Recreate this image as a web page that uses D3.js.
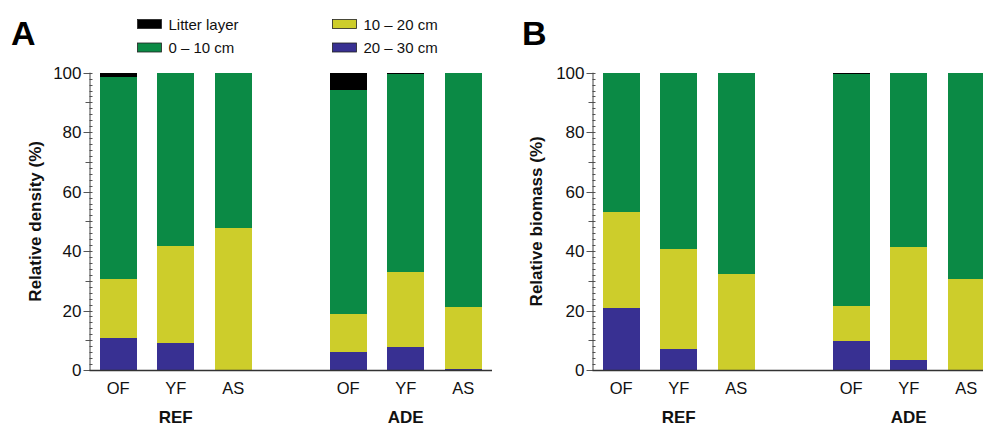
<!DOCTYPE html>
<html>
<head>
<meta charset="utf-8">
<script src="https://cdn.jsdelivr.net/npm/d3@7"></script>
<style>
  html, body { margin: 0; padding: 0; background: #fff; }
  svg { display: block; font-family: Arial, "Liberation Sans", Helvetica, sans-serif; }
</style>
</head>
<body>
<svg id="chart" width="983" height="428"></svg>
<script>
// Sites within each land-use group, and the groups themselves
const sites = ["OF", "YF", "AS"];
const groups = ["REF", "ADE"];

// Soil layers, stacked from the bottom up
const layers = ["20 – 30 cm", "10 – 20 cm", "0 – 10 cm", "Litter layer"];
const layerColors = ["#383092", "#cdcd2b", "#0b8a45", "#000000"];

// Relative density (%) per bar: REF OF, REF YF, REF AS, ADE OF, ADE YF, ADE AS
const densityLitter = [1.3, 0, 0, 5.7, 0.3, 0];
const density0_10   = [68.0, 58.2, 52.4, 75.4, 66.6, 78.9];
const density10_20  = [19.8, 32.6, 47.6, 12.9, 25.5, 20.7];
const density20_30  = [10.9, 9.2, 0, 6.0, 7.6, 0.4];

// Relative biomass (%) per bar, same order
const biomassLitter = [0.2, 0, 0, 0.5, 0.2, 0];
const biomass0_10   = [46.7, 59.4, 67.8, 77.9, 58.5, 69.3];
const biomass10_20  = [32.1, 33.5, 32.2, 11.9, 37.9, 30.7];
const biomass20_30  = [21.0, 7.1, 0, 9.7, 3.4, 0];

const yTicks = [0, 20, 40, 60, 80, 100];

const svg = d3.select("#chart");

function buildRows(l30, l20, l10, litter) {
  const rows = [];
  groups.forEach((g, gi) => sites.forEach((s, si) => {
    const i = gi * sites.length + si;
    rows.push({
      key: g + "-" + s, group: g, site: s,
      "20 – 30 cm": l30[i], "10 – 20 cm": l20[i], "0 – 10 cm": l10[i], "Litter layer": litter[i]
    });
  }));
  return rows;
}

function drawPanel(opts) {
  const { left, letter, letterX, title, titleX, rows } = opts;
  const top = 72.7, bottom = 370;
  const step = 57.5;

  // slots: three REF bars, an empty spacer, three ADE bars
  const slots = ["REF-OF", "REF-YF", "REF-AS", "gap", "ADE-OF", "ADE-YF", "ADE-AS"];
  const x = d3.scaleBand().domain(slots)
    .range([left, left + step * slots.length])
    .paddingInner(0.35).paddingOuter(0.175);
  const y = d3.scaleLinear().domain([0, 100]).range([bottom, top]);

  const g = svg.append("g");

  // panel letter
  g.append("text").attr("x", letterX).attr("y", 45)
    .attr("font-size", 34).attr("font-weight", "bold").text(letter);

  // stacked bars
  const stacked = d3.stack().keys(layers)(rows);
  stacked.forEach((series, li) => {
    g.append("g").attr("fill", layerColors[li]).attr("shape-rendering", "crispEdges")
      .selectAll("rect").data(series.filter(d => d[1] - d[0] > 0)).join("rect")
      .attr("x", d => x(d.data.key))
      .attr("width", x.bandwidth())
      .attr("y", d => y(d[1]))
      .attr("height", d => y(d[0]) - y(d[1]));
  });

  // y axis: major ticks every 20, mid every 10, minor every 2
  const ax = g.append("g").attr("stroke", "#555").attr("stroke-width", 1);
  d3.range(0, 101, 2).forEach(v => {
    const yy = Math.round(y(v)) + 0.5;
    let x0 = left, x1 = left + 3;
    if (v % 20 === 0) x0 = left - 6;
    else if (v % 10 === 0) x0 = left - 4;
    ax.append("line").attr("x1", x0).attr("x2", x1).attr("y1", yy).attr("y2", yy);
  });
  ax.append("line").attr("x1", left + 0.5).attr("x2", left + 0.5)
    .attr("y1", top).attr("y2", bottom).attr("stroke", "#444");

  g.append("g").selectAll("text").data(yTicks).join("text")
    .attr("x", left - 8).attr("y", d => y(d)).attr("dy", "0.36em")
    .attr("text-anchor", "end").attr("font-size", 17).attr("fill", "#111")
    .text(d => d);

  // x baseline
  g.append("line").attr("x1", left).attr("x2", left + step * slots.length)
    .attr("y1", bottom + 0.5).attr("y2", bottom + 0.5)
    .attr("stroke", "#333").attr("stroke-width", 1.5);

  // site labels
  g.append("g").selectAll("text").data(rows).join("text")
    .attr("x", d => x(d.key) + x.bandwidth() / 2).attr("y", 394)
    .attr("text-anchor", "middle").attr("font-size", 16.5).attr("fill", "#111")
    .text(d => d.site);

  // group labels under the middle site of each group
  g.append("g").selectAll("text").data(groups).join("text")
    .attr("x", d => x(d + "-YF") + x.bandwidth() / 2).attr("y", 423)
    .attr("text-anchor", "middle").attr("font-size", 17).attr("font-weight", "bold")
    .attr("fill", "#111").text(d => d);

  // y title
  g.append("text")
    .attr("transform", `translate(${titleX},${(top + bottom) / 2}) rotate(-90)`)
    .attr("dy", "0.36em").attr("text-anchor", "middle")
    .attr("font-size", 17).attr("font-weight", "bold").attr("fill", "#111")
    .text(title);
}

drawPanel({
  left: 89.5, letter: "A", letterX: 11, title: "Relative density (%)", titleX: 35,
  rows: buildRows(density20_30, density10_20, density0_10, densityLitter)
});
drawPanel({
  left: 592.5, letter: "B", letterX: 522, title: "Relative biomass (%)", titleX: 536,
  rows: buildRows(biomass20_30, biomass10_20, biomass0_10, biomassLitter)
});

// legend: two columns, two rows
const legendOrder = [
  { name: "Litter layer", col: 0, row: 0 },
  { name: "0 – 10 cm", col: 0, row: 1 },
  { name: "10 – 20 cm", col: 1, row: 0 },
  { name: "20 – 30 cm", col: 1, row: 1 }
];
const legend = svg.append("g");
const item = legend.selectAll("g").data(legendOrder).join("g")
  .attr("transform", d => `translate(${137.5 + d.col * 195},${19.5 + d.row * 23.5})`);
item.append("rect").attr("width", 24).attr("height", 9)
  .attr("fill", d => layerColors[layers.indexOf(d.name)])
  .attr("stroke", "#222").attr("stroke-width", 0.8);
item.append("text").attr("x", 31).attr("y", 10).attr("font-size", 15).attr("fill", "#111")
  .text(d => d.name);
</script>
</body>
</html>
